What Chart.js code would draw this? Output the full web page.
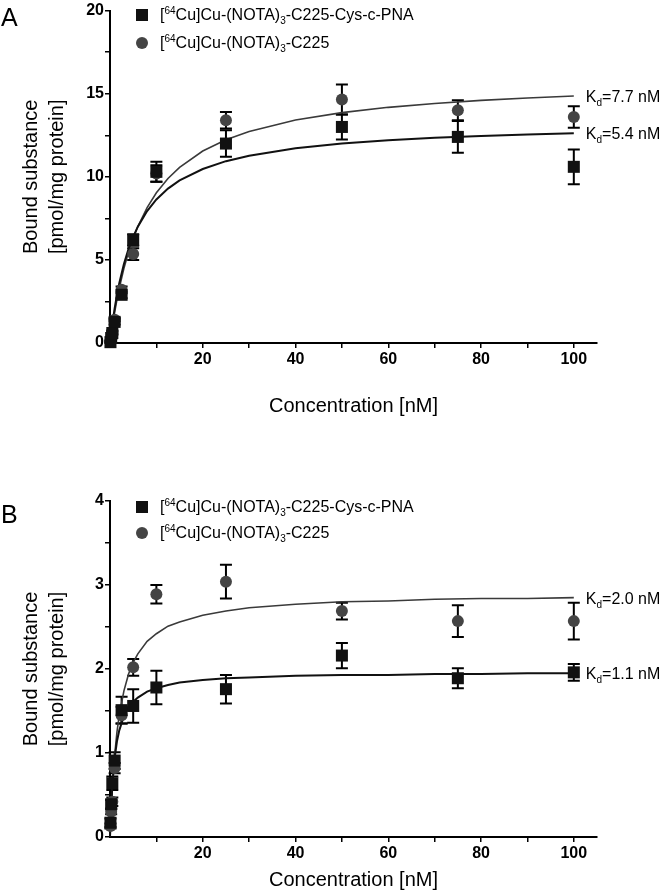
<!DOCTYPE html>
<html>
<head>
<meta charset="utf-8">
<script src="https://cdn.jsdelivr.net/npm/chart.js@4.4.0/dist/chart.umd.min.js"></script>
<style>
body { margin: 0; background: #fff; }
#wrap { position: relative; width: 665px; height: 895px; font-family: 'Liberation Sans', Arial, sans-serif; color: #000; }
canvas { position: absolute; left: 0; }
.panel { position: absolute; left: 1px; font-size: 25px; line-height: 25px; }
.leg { position: absolute; left: 136px; font-size: 16px; line-height: 18px; white-space: nowrap; }
.leg .mk { position: absolute; left: 0; top: 3px; width: 12px; height: 12px; }
.leg .sq { background: #111; }
.leg .ci { background: #444; border-radius: 50%; }
.leg span.t { position: absolute; left: 24px; top: 0; }
.kd { position: absolute; font-size: 16px; line-height: 20px; white-space: nowrap; }
sup { font-size: 10px; vertical-align: 6px; line-height: 0; }
sub { font-size: 10px; vertical-align: -4px; line-height: 0; }
</style>
</head>
<body>
<div id="wrap">
  <canvas id="chartA" width="665" height="430" style="top:0"></canvas>
  <canvas id="chartB" width="665" height="450" style="top:445px"></canvas>

  <div class="panel" style="top:5px">A</div>
  <div class="panel" style="top:502px">B</div>

  <div class="leg" style="top:6px"><div class="mk sq"></div><span class="t">[<sup>64</sup>Cu]Cu-(NOTA)<sub>3</sub>-C225-Cys-c-PNA</span></div>
  <div class="leg" style="top:34px"><div class="mk ci"></div><span class="t">[<sup>64</sup>Cu]Cu-(NOTA)<sub>3</sub>-C225</span></div>
  <div class="leg" style="top:498px"><div class="mk sq"></div><span class="t">[<sup>64</sup>Cu]Cu-(NOTA)<sub>3</sub>-C225-Cys-c-PNA</span></div>
  <div class="leg" style="top:524px"><div class="mk ci"></div><span class="t">[<sup>64</sup>Cu]Cu-(NOTA)<sub>3</sub>-C225</span></div>

  <div class="kd" id="kdA1">K<sub>d</sub>=7.7 nM</div>
  <div class="kd" id="kdA2">K<sub>d</sub>=5.4 nM</div>
  <div class="kd" id="kdB1">K<sub>d</sub>=2.0 nM</div>
  <div class="kd" id="kdB2">K<sub>d</sub>=1.1 nM</div>
</div>

<script>
// concentrations (nM)
const conc = [0.1, 0.25, 0.5, 1, 2.5, 5, 10, 25, 50, 75, 100];

// panel A - measured points
const pnaA = [0.05, 0.3, 0.6, 1.27, 2.9, 6.2, 10.3, 12.0, 13.0, 12.4, 10.6];
const pnaErrA = [0.05, 0.05, 0.1, 0.15, 0.2, 0.35, 0.6, 0.8, 0.75, 0.95, 1.05];
const c225A = [0.1, 0.3, 0.65, 1.4, 3.2, 5.35, 10.2, 13.4, 14.65, 14.0, 13.6];
const c225ErrA = [0.05, 0.05, 0.1, 0.1, 0.2, 0.35, 0.5, 0.5, 0.9, 0.6, 0.65];

// panel B - measured points
const pnaB = [0.17, 0.39, 0.64, 0.91, 1.51, 1.56, 1.78, 1.76, 2.16, 1.89, 1.96];
const pnaErrB = [0.05, 0.05, 0.08, 0.1, 0.16, 0.2, 0.2, 0.17, 0.15, 0.12, 0.1];
const c225B = [0.13, 0.3, 0.42, 0.82, 1.45, 2.02, 2.89, 3.04, 2.69, 2.57, 2.57];
const c225ErrB = [0.03, 0.03, 0.05, 0.06, 0.1, 0.1, 0.11, 0.2, 0.1, 0.19, 0.22];

// fitted curves
const curveX = [0, 0.5, 1, 1.5, 2, 3, 4, 5, 6, 8, 10, 12.5, 15, 20, 25, 30, 40, 50, 60, 70, 80, 90, 100];
const fitPnaA = [0, 1.13, 2.08, 2.89, 3.59, 4.75, 5.66, 6.39, 7.0, 7.94, 8.64, 9.29, 9.78, 10.47, 10.94, 11.27, 11.72, 12.0, 12.2, 12.35, 12.46, 12.55, 12.62];
const fitC225A = [0, 0.98, 1.84, 2.61, 3.3, 4.49, 5.47, 6.3, 7.01, 8.15, 9.04, 9.9, 10.57, 11.55, 12.23, 12.73, 13.42, 13.86, 14.18, 14.41, 14.6, 14.74, 14.86];
const fitPnaB = [0, 0.62, 0.94, 1.14, 1.27, 1.44, 1.55, 1.61, 1.66, 1.73, 1.77, 1.81, 1.84, 1.87, 1.89, 1.9, 1.92, 1.93, 1.93, 1.94, 1.94, 1.95, 1.95];
const fitC225B = [0, 0.58, 0.97, 1.25, 1.45, 1.74, 1.94, 2.08, 2.18, 2.33, 2.42, 2.51, 2.56, 2.64, 2.69, 2.73, 2.77, 2.8, 2.81, 2.83, 2.84, 2.84, 2.85];

// ticks
const xTicks = [10, 20, 30, 40, 50, 60, 70, 80, 90, 100];
const yTicksA = [0, 2.5, 5, 7.5, 10, 12.5, 15, 17.5, 20];
const yTicksB = [0, 0.5, 1, 1.5, 2, 2.5, 3, 3.5, 4];

const FONT = "'Liberation Sans', Arial, sans-serif";

const errorBars = {
    id: 'errorBars',
    beforeDatasetsDraw(chart) {
        const ctx = chart.ctx;
        const xs = chart.scales.x, ys = chart.scales.y;
        ctx.save();
        ctx.strokeStyle = '#000';
        ctx.lineWidth = 2;
        chart.data.datasets.forEach(ds => {
            if (!ds.errors) return;
            ds.data.forEach((p, i) => {
                const e = ds.errors[i];
                const x = xs.getPixelForValue(p.x);
                const y1 = ys.getPixelForValue(p.y + e);
                const y2 = ys.getPixelForValue(Math.max(p.y - e, 0));
                ctx.beginPath();
                ctx.moveTo(x, y1); ctx.lineTo(x, y2);
                ctx.moveTo(x - 6, y1); ctx.lineTo(x + 6, y1);
                ctx.moveTo(x - 6, y2); ctx.lineTo(x + 6, y2);
                ctx.stroke();
            });
        });
        ctx.restore();
    }
};

function pts(xs, ys) {
    return xs.map((x, i) => ({ x: x, y: ys[i] }));
}

function makeChart(id, o) {
    const ctx = document.getElementById(id).getContext('2d');
    return new Chart(ctx, {
        type: 'scatter',
        data: {
            datasets: [
                {
                    data: pts(curveX, o.fitC225), showLine: true, pointRadius: 0,
                    borderColor: '#3a3a3a', borderWidth: 1.6, tension: 0, order: 5, clip: false
                },
                {
                    data: pts(curveX, o.fitPna), showLine: true, pointRadius: 0,
                    borderColor: '#111', borderWidth: 2, tension: 0, order: 4, clip: false
                },
                {
                    data: pts(conc, o.c225), errors: o.c225Err, pointStyle: 'circle', pointRadius: 6,
                    backgroundColor: '#444', borderColor: '#444', borderWidth: 0, order: 2, clip: false
                },
                {
                    data: pts(conc, o.pna), errors: o.pnaErr, pointStyle: 'rect', pointRadius: 8.5,
                    backgroundColor: '#111', borderColor: '#111', borderWidth: 0, order: 1, clip: false
                }
            ]
        },
        options: {
            responsive: false,
            animation: false,
            devicePixelRatio: 1,
            layout: { padding: o.padding },
            plugins: { legend: { display: false }, tooltip: { enabled: false } },
            scales: {
                x: {
                    type: 'linear', min: 0, max: 105,
                    afterBuildTicks: s => { s.ticks = xTicks.map(v => ({ value: v })); },
                    afterFit: s => { s.height = o.xHeight; },
                    ticks: {
                        autoSkip: false, maxRotation: 0, padding: 2, color: '#000',
                        font: { family: FONT, size: 16, weight: 'bold' },
                        callback: v => (v % 20 === 0 ? v : '')
                    },
                    grid: { drawOnChartArea: false, drawTicks: true, tickLength: 5, color: '#000', lineWidth: 1.5 },
                    border: { display: true, color: '#000', width: 2 },
                    title: { display: true, text: 'Concentration [nM]', color: '#000', padding: 0, font: { family: FONT, size: 20 } }
                },
                y: {
                    type: 'linear', min: 0, max: o.yMax,
                    afterBuildTicks: s => { s.ticks = o.yTicks.map(v => ({ value: v })); },
                    afterFit: s => { s.width = 110; },
                    ticks: {
                        autoSkip: false, padding: 1, color: '#000',
                        font: { family: FONT, size: 16, weight: 'bold' },
                        callback: v => (v % o.yLabelStep === 0 ? v : '')
                    },
                    grid: { drawOnChartArea: false, drawTicks: true, tickLength: 5, color: '#000', lineWidth: 1.5 },
                    border: { display: true, color: '#000', width: 2 },
                    title: {
                        display: true, text: ['Bound substance', '[pmol/mg protein]'], color: '#000',
                        padding: { top: 18, bottom: 0 }, font: { family: FONT, size: 20, lineHeight: 1.3 }
                    }
                }
            }
        },
        plugins: [errorBars]
    });
}

const chartA = makeChart('chartA', {
    pna: pnaA, pnaErr: pnaErrA, c225: c225A, c225Err: c225ErrA,
    fitPna: fitPnaA, fitC225: fitC225A,
    yMax: 20, yTicks: yTicksA, yLabelStep: 5,
    padding: { left: 0, top: 10, right: 68, bottom: 12 }, xHeight: 75
});

const chartB = makeChart('chartB', {
    pna: pnaB, pnaErr: pnaErrB, c225: c225B, c225Err: c225ErrB,
    fitPna: fitPnaB, fitC225: fitC225B,
    yMax: 4, yTicks: yTicksB, yLabelStep: 1,
    padding: { left: 0, top: 56, right: 68, bottom: 3 }, xHeight: 55
});

// put the Kd labels at the end of each fitted curve
function placeKd(chart, top, curve, el) {
    const xp = chart.scales.x.getPixelForValue(curveX[curveX.length - 1]);
    const yp = chart.scales.y.getPixelForValue(curve[curve.length - 1]);
    const d = document.getElementById(el);
    d.style.left = (xp + 12) + 'px';
    d.style.top = (top + yp - 9) + 'px';
}
placeKd(chartA, 0, fitC225A, 'kdA1');
placeKd(chartA, 0, fitPnaA, 'kdA2');
placeKd(chartB, 445, fitC225B, 'kdB1');
placeKd(chartB, 445, fitPnaB, 'kdB2');
</script>
</body>
</html>
